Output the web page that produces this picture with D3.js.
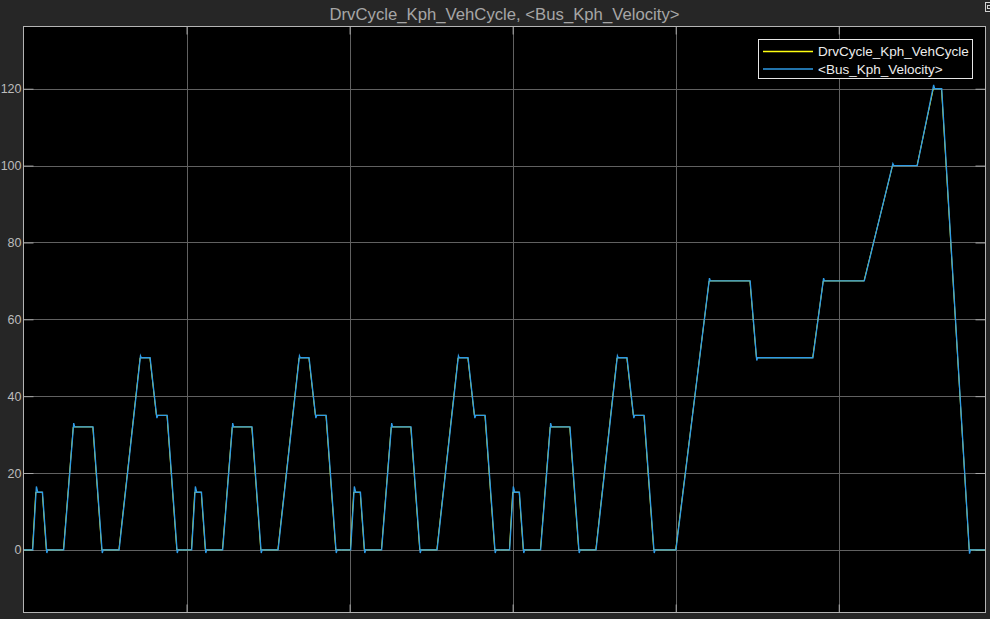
<!DOCTYPE html>
<html>
<head>
<meta charset="utf-8">
<script src="https://cdn.jsdelivr.net/npm/d3@7/dist/d3.min.js"></script>
<style>
  html, body { margin: 0; padding: 0; background: #262626; }
  svg { display: block; }
</style>
</head>
<body>
<svg id="chart" width="990" height="619"></svg>
<script>
// ---- Data ----
const titleText = "DrvCycle_Kph_VehCycle, <Bus_Kph_Velocity>";
const seriesNames = ["DrvCycle_Kph_VehCycle", "<Bus_Kph_Velocity>"];
const yTickValues = [0, 20, 40, 60, 80, 100, 120];
const xTickValues = [200, 400, 600, 800, 1000];
const xDomain = [0, 1180];
const yDomain = [-16.3, 136.2];

// Reference drive cycle (yellow)
const refTime = [
  0, 11, 15, 23, 28, 49, 61, 85, 96, 117, 143, 155, 163, 176, 188,
  195, 206, 210, 218, 223, 244, 256, 280, 291, 312, 338, 350, 358, 371, 383,
  390, 401, 405, 413, 418, 439, 451, 475, 486, 507, 533, 545, 553, 566, 578,
  585, 596, 600, 608, 613, 634, 646, 670, 681, 702, 728, 740, 748, 761, 773,
  780, 800, 841, 891, 899, 968, 981, 1031, 1066, 1096, 1116, 1126, 1160, 1180
];
const refSpeed = [
  0, 0, 15, 15, 0, 0, 32, 32, 0, 0, 50, 50, 35, 35, 0,
  0, 0, 15, 15, 0, 0, 32, 32, 0, 0, 50, 50, 35, 35, 0,
  0, 0, 15, 15, 0, 0, 32, 32, 0, 0, 50, 50, 35, 35, 0,
  0, 0, 15, 15, 0, 0, 32, 32, 0, 0, 50, 50, 35, 35, 0,
  0, 0, 70, 70, 50, 50, 70, 70, 100, 100, 120, 120, 0, 0
];

// Vehicle velocity (blue), slight lag and overshoot
const velTime = [
  0, 11.3, 15.8, 17.5, 23.3, 28.6, 29.8, 49.3, 61.6, 62.8, 85.3, 96.6, 97.8, 117.3, 143.5, 144.5, 155.3, 163.6, 164.8, 176.3, 188.6, 189.8,
  195, 206.3, 210.8, 212.5, 218.3, 223.6, 224.8, 244.3, 256.6, 257.8, 280.3, 291.6, 292.8, 312.3, 338.5, 339.5, 350.3, 358.6, 359.8, 371.3, 383.6, 384.8,
  390, 401.3, 405.8, 407.5, 413.3, 418.6, 419.8, 439.3, 451.6, 452.8, 475.3, 486.6, 487.8, 507.3, 533.5, 534.5, 545.3, 553.6, 554.8, 566.3, 578.6, 579.8,
  585, 596.3, 600.8, 602.5, 608.3, 613.6, 614.8, 634.3, 646.6, 647.8, 670.3, 681.6, 682.8, 702.3, 728.5, 729.5, 740.3, 748.6, 749.8, 761.3, 773.6, 774.8,
  780, 800.3, 841.4, 842.6, 891.3, 899.4, 900.6, 968.3, 981.4, 982.6, 1031.3, 1066.4, 1067.6, 1096.3, 1116.4, 1117.6, 1126.3, 1160.4, 1161.6, 1180
];
const velSpeed = [
  0, 0, 16.5, 15, 15, -0.8, 0, 0, 33, 32, 32, -0.8, 0, 0, 50.5, 50, 50, 34.3, 35, 35, -0.8, 0,
  0, 0, 16.5, 15, 15, -0.8, 0, 0, 33, 32, 32, -0.8, 0, 0, 50.5, 50, 50, 34.3, 35, 35, -0.8, 0,
  0, 0, 16.5, 15, 15, -0.8, 0, 0, 33, 32, 32, -0.8, 0, 0, 50.5, 50, 50, 34.3, 35, 35, -0.8, 0,
  0, 0, 16.5, 15, 15, -0.8, 0, 0, 33, 32, 32, -0.8, 0, 0, 50.5, 50, 50, 34.3, 35, 35, -0.8, 0,
  0, 0, 70.7, 70, 70, 49.3, 50, 50, 70.7, 70, 70, 100.5, 100, 100, 121, 120, 120, -1, 0, 0
];

const seriesColors = ["#ffff11", "#2e9be6"];

// ---- Layout ----
const svg = d3.select("#chart");
const plotL = 23.5, plotR = 985.5, plotT = 26.5, plotB = 612.5;

const x = d3.scaleLinear().domain(xDomain).range([plotL, plotR]);
const y = d3.scaleLinear().domain(yDomain).range([plotB, plotT]);

// figure background
svg.append("rect").attr("width", 990).attr("height", 619).attr("fill", "#262626");

// axes background
svg.append("rect")
  .attr("x", plotL).attr("y", plotT)
  .attr("width", plotR - plotL).attr("height", plotB - plotT)
  .attr("fill", "#000");

// grid lines
const gridColor = "#616161";
const grid = svg.append("g");
grid.selectAll("line.gy").data(yTickValues).join("line")
  .attr("x1", plotL).attr("x2", plotR)
  .attr("y1", d => Math.round(y(d)) + 0.5).attr("y2", d => Math.round(y(d)) + 0.5)
  .attr("stroke", gridColor).attr("stroke-width", 1);
grid.selectAll("line.gx").data(xTickValues).join("line")
  .attr("y1", plotT).attr("y2", plotB)
  .attr("x1", d => Math.round(x(d)) + 0.5).attr("x2", d => Math.round(x(d)) + 0.5)
  .attr("stroke", gridColor).attr("stroke-width", 1);

// axes with inward ticks (D3 axes)
const tickColor = "#a8a8a8";
const yAxisL = d3.axisLeft(y).tickValues(yTickValues).tickSize(-10).tickPadding(13).tickFormat(d3.format("d"));
const yAxisR = d3.axisRight(y).tickValues(yTickValues).tickSize(-10).tickFormat("");
const xAxisB = d3.axisBottom(x).tickValues(xTickValues).tickSize(-8).tickFormat("");
const xAxisT = d3.axisTop(x).tickValues(xTickValues).tickSize(-8).tickFormat("");

function styleAxis(g) {
  g.select(".domain").remove();
  g.selectAll(".tick line").attr("stroke", tickColor);
  g.selectAll(".tick text")
    .attr("fill", "#bcbcbc")
    .style("font-family", "'Liberation Sans', Arial, sans-serif")
    .style("font-size", "12.5px");
}

svg.append("g").attr("transform", `translate(${plotL},0)`).call(yAxisL).call(styleAxis)
  .selectAll(".tick text").attr("x", -2).attr("text-anchor", "end");
svg.append("g").attr("transform", `translate(${plotR},0)`).call(yAxisR).call(styleAxis);
svg.append("g").attr("transform", `translate(0,${plotB})`).call(xAxisB).call(styleAxis);
svg.append("g").attr("transform", `translate(0,${plotT})`).call(xAxisT).call(styleAxis);

// lines
svg.append("clipPath").attr("id", "plotClip")
  .append("rect").attr("x", plotL).attr("y", plotT).attr("width", plotR - plotL).attr("height", plotB - plotT);

const lineGen = d3.line().x(d => x(d[0])).y(d => y(d[1]));
const refData = refTime.map((t, i) => [t, refSpeed[i]]);
const velData = velTime.map((t, i) => [t, velSpeed[i]]);

const plot = svg.append("g").attr("clip-path", "url(#plotClip)");
plot.append("path").datum(refData).attr("d", lineGen)
  .attr("fill", "none").attr("stroke", seriesColors[0]).attr("stroke-width", 1);
plot.append("path").datum(velData).attr("d", lineGen)
  .attr("fill", "none").attr("stroke", seriesColors[1]).attr("stroke-width", 1.3);

// axes border
svg.append("rect")
  .attr("x", plotL).attr("y", plotT)
  .attr("width", plotR - plotL).attr("height", plotB - plotT)
  .attr("fill", "none").attr("stroke", "#b4b4b4").attr("stroke-width", 1);

// title
svg.append("text")
  .attr("x", (plotL + plotR) / 2).attr("y", 19.5)
  .attr("text-anchor", "middle")
  .attr("fill", "#a6a6a6")
  .attr("textLength", 350).attr("lengthAdjust", "spacingAndGlyphs")
  .style("font-family", "'Liberation Sans Narrow', 'Arial Narrow', 'Liberation Sans', sans-serif")
  .style("font-size", "16.5px")
  .text(titleText);

// small corner icon
svg.append("rect").attr("x", 985.5).attr("y", 2.5).attr("width", 8).attr("height", 9)
  .attr("fill", "none").attr("stroke", "#d0d0d0").attr("stroke-width", 1);
svg.append("rect").attr("x", 987.5).attr("y", 5.5).attr("width", 3).attr("height", 3)
  .attr("fill", "none").attr("stroke", "#d0d0d0").attr("stroke-width", 1);

// legend
const lg = svg.append("g");
const lgX = 758.5, lgY = 39.5, lgW = 214, lgH = 39;
lg.append("rect").attr("x", lgX).attr("y", lgY).attr("width", lgW).attr("height", lgH)
  .attr("fill", "#000").attr("stroke", "#e6e6e6").attr("stroke-width", 1);
seriesNames.forEach((name, i) => {
  const cy = 51.5 + i * 17.5;
  lg.append("line").attr("x1", 763).attr("x2", 813).attr("y1", cy).attr("y2", cy)
    .attr("stroke", seriesColors[i]).attr("stroke-width", 1.5);
  lg.append("text").attr("x", 818).attr("y", cy + 4.8)
    .attr("fill", "#ececec")
    .style("font-family", "'Liberation Sans', Arial, sans-serif")
    .style("font-size", "13.5px")
    .text(name);
});
</script>
</body>
</html>
